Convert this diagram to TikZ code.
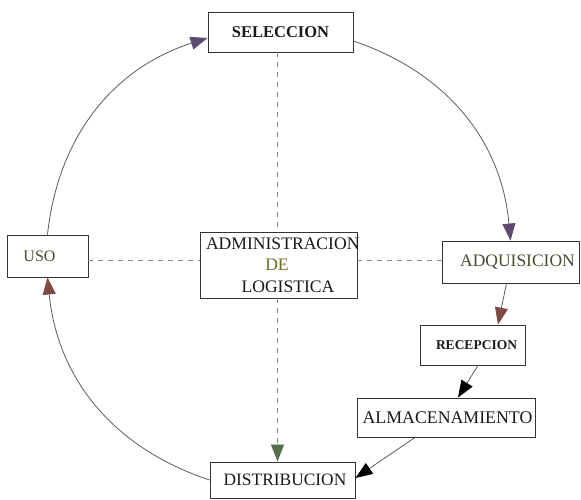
\documentclass[tikz,border=0pt]{standalone}
\usepackage{fontspec}
\setmainfont{Liberation Serif}
\usetikzlibrary{arrows.meta}
\definecolor{linegray}{HTML}{5C5C5C}
\definecolor{guidegray}{HTML}{8A8A8A}
\definecolor{olive}{HTML}{4A4A30}
\definecolor{headpurple}{HTML}{5E4A6E}
\definecolor{headbrown}{HTML}{7E4A42}
\definecolor{headgreen}{HTML}{55704A}
\begin{document}
\begin{tikzpicture}[x=1pt,y=1pt,
  box/.style={draw=black!80, line width=0.9pt, inner sep=0pt, text=black!90,
              font=\fontsize{16.5}{20}\selectfont},
  flow/.style={draw=linegray, line width=0.8pt},
  guide/.style={draw=guidegray, line width=0.8pt, dash pattern=on 5pt off 5pt},
  headin/.style={-{Triangle[length=17pt,width=13pt,color=#1,fill=#1]}},
]
\useasboundingbox (0,0) rectangle (581,500);

% boxes of the cycle
\node[box, minimum width=145pt, minimum height=40pt] (sel) at (280.5,468)
  {\textbf{SELECCION}};
\node[box, minimum width=81pt, minimum height=42pt, text=olive,
      font=\fontsize{16}{20}\selectfont] (uso) at (47.5,244)
  {USO\hspace*{16pt}};
\node[box, text width=157pt, minimum height=66pt, align=center,
      font=\fontsize{17.6}{21.5}\selectfont] (adm) at (278.5,235)
  {\mbox{\hspace*{6pt}ADMINISTRACION}\\\mbox{{\color{olive!80!yellow}DE}\hspace*{3pt}}\\\mbox{\hspace*{19pt}LOGISTICA}};
\node[box, minimum width=137pt, minimum height=42pt, text=olive,
      font=\fontsize{17.5}{20}\selectfont] (adq) at (510.5,238)
  {\hspace*{14pt}ADQUISICION};
\node[box, minimum width=105pt, minimum height=40pt,
      font=\fontsize{13.5}{16}\selectfont\bfseries] (rec) at (472.5,155)
  {\hspace*{8pt}RECEPCION};
\node[box, minimum width=178pt, minimum height=39pt,
      font=\fontsize{17.8}{20}\selectfont] (alm) at (446,82.5)
  {\hspace*{3pt}ALMACENAMIENTO};
\node[box, minimum width=145pt, minimum height=36pt,
      font=\fontsize{17.4}{20}\selectfont] (dist) at (282.5,20)
  {\hspace*{5pt}DISTRIBUCION};

% axes of the dashed guide lines
\coordinate (vx) at (277.5,0);
\coordinate (hy) at (0,240);

% dashed guides through the centre box
\draw[guide] (sel.south -| vx) -- (adm.north -| vx);
\draw[guide, headin=headgreen] (adm.south -| vx) -- (dist.north -| vx);
\draw[guide] (uso.east |- hy) -- (adm.west |- hy);
\draw[guide] (adm.east |- hy) -- (adq.west |- hy);

% outer cycle arcs
\draw[flow, headin=headpurple] (uso.north) to[bend left=33] ([yshift=-6pt]sel.west);
\draw[flow, headin=headpurple] ([yshift=-9pt]sel.east) to[bend left=33] (adq.north);
\draw[flow, headin=headbrown] (dist.west) to[bend left=33] (uso.south);

% chain on the right
\draw[flow, headin=headbrown] ([xshift=-4pt]adq.south) -- ([xshift=25.5pt]rec.north);
\draw[flow, headin=black] ([xshift=5.5pt]rec.south) -- ([xshift=12pt]alm.north);
\draw[flow, headin=black] ([xshift=-31pt]alm.south) -- ([yshift=2pt]dist.east);
\end{tikzpicture}
\end{document}
